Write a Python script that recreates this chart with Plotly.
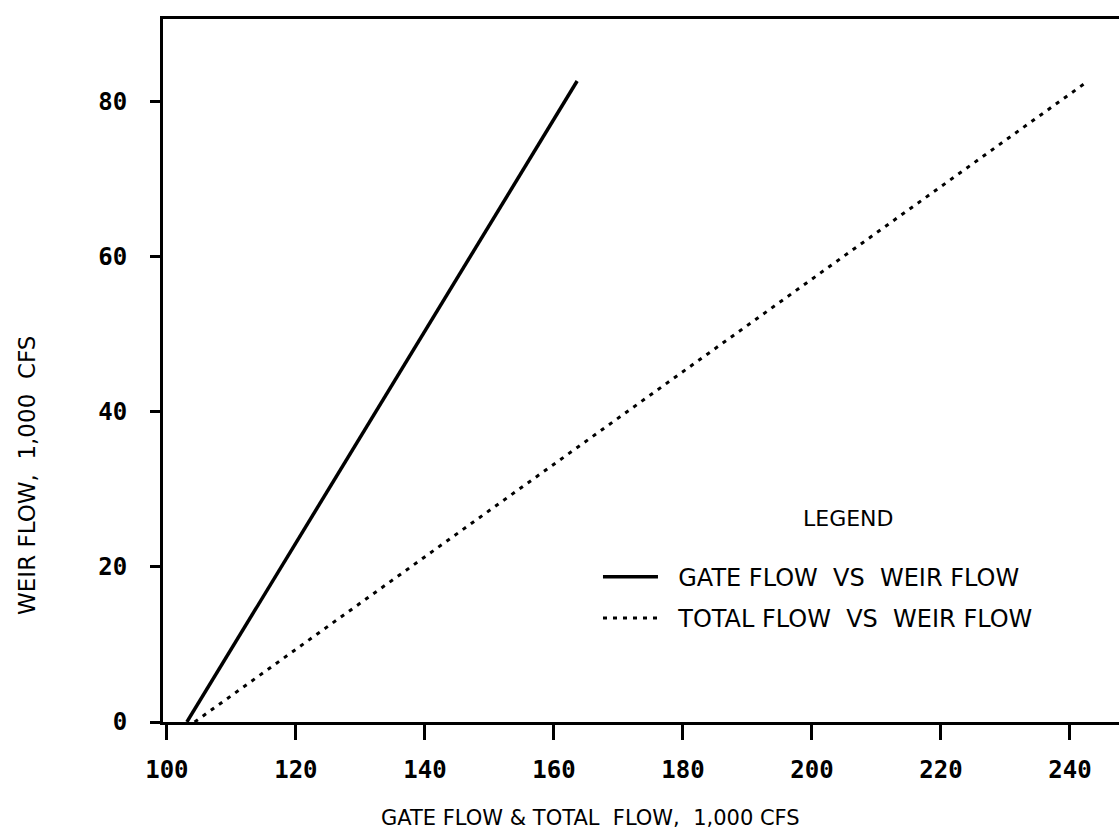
import plotly.graph_objects as go

# Data (1,000 cfs)
weir_flow = [0.0, 82.7]
gate_flow = [103.1, 163.6]
total_flow = [104.3, 242.8]

x_ticks = [100, 120, 140, 160, 180, 200, 220, 240]
y_ticks = [0, 20, 40, 60, 80]

NB = "\u00a0"
series_names = [NB * 2 + "GATE FLOW" + NB * 2 + "VS" + NB * 2 + "WEIR FLOW",
                NB * 2 + "TOTAL FLOW" + NB * 2 + "VS" + NB * 2 + "WEIR FLOW"]
x_title = "GATE FLOW & TOTAL" + NB * 2 + "FLOW," + NB * 2 + "1,000 CFS"
y_title = "WEIR FLOW," + NB * 2 + "1,000" + NB * 2 + "CFS"

fig = go.Figure()
fig.add_trace(go.Scatter(x=gate_flow, y=weir_flow, mode="lines", name=series_names[0],
                         legendgroup="g", line=dict(color="black", width=3.5)))
fig.add_trace(go.Scatter(x=total_flow, y=weir_flow, mode="lines", name=series_names[1],
                         legendgroup="t", line=dict(color="black", width=3, dash="4px,6px")))

tickfont = dict(family="DejaVu Sans Mono", size=24, color="black", weight="bold")
fam = "DejaVu Sans"

fig.update_layout(
    width=1119, height=836,
    margin=dict(l=163, r=0, t=19, b=114),
    paper_bgcolor="white", plot_bgcolor="white",
    showlegend=True,
    legend=dict(x=0.455, y=0.238, xanchor="left", yanchor="top",
                font=dict(family=fam, size=24, color="black"), itemwidth=55,
                tracegroupgap=7, traceorder="grouped",
                bgcolor="rgba(0,0,0,0)"),
    xaxis=dict(range=[99.4, 247.6], tickvals=x_ticks, ticktext=[str(v) for v in x_ticks],
               showgrid=False, zeroline=False, showline=True, linecolor="black", linewidth=3,
               mirror=True, ticks="outside", ticklen=15, tickwidth=3, tickcolor="black",
               tickfont=tickfont, ticklabelstandoff=9),
    yaxis=dict(range=[0, 90.7], tickvals=y_ticks, ticktext=[str(v) for v in y_ticks],
               showgrid=False, zeroline=False, showline=True, linecolor="black", linewidth=3,
               ticks="outside", ticklen=10, tickwidth=3, tickcolor="black",
               tickfont=tickfont, ticklabelstandoff=18),
    annotations=[
        dict(text="LEGEND", xref="paper", yref="paper", x=0.717, y=0.29,
             showarrow=False, font=dict(family=fam, size=22, color="black"),
             xanchor="center", yanchor="middle"),
        dict(text=x_title, xref="paper", yref="paper", x=0.4467, y=-0.1366,
             showarrow=False, font=dict(family=fam, size=21, color="black"),
             xanchor="center", yanchor="middle"),
        dict(text=y_title, xref="paper", yref="paper", x=-0.1423, y=0.3514, textangle=-90,
             showarrow=False, font=dict(family=fam, size=23, color="black"),
             xanchor="center", yanchor="middle"),
    ],
)

fig.write_html("out.html")
